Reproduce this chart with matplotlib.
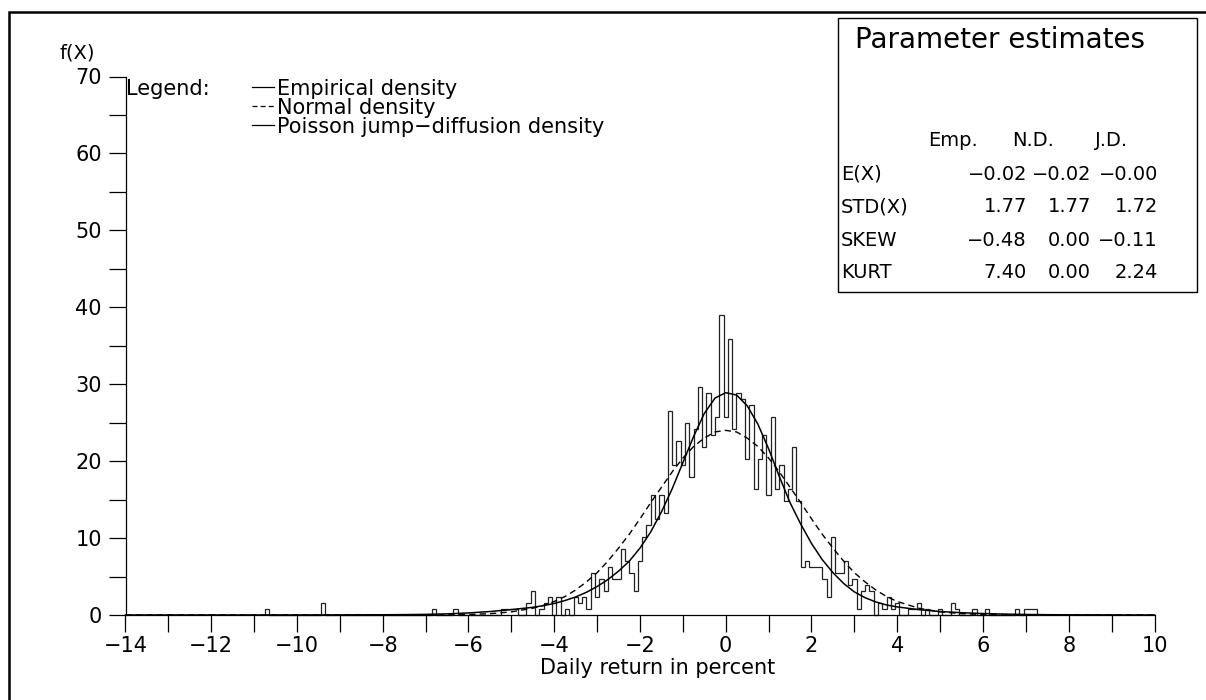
import numpy as np
import matplotlib
matplotlib.use("Agg")
import matplotlib.pyplot as plt
from matplotlib.patches import Rectangle
from matplotlib.lines import Line2D
from matplotlib.ticker import MultipleLocator

W, H = 1206, 700
plt.rcParams["font.family"] = ["DejaVu Sans"]

######## empirical histogram (0.1 wide bins, first bin centred on -10.7)
bin_first = -10.7
bin_width = 0.1
count_height = 0.78  # f(X) height of a single observation
hist_counts = ([1] + [0] * 12 + [2] + [0] * 25 + [1] + [0] * 4 + [1] + [0] * 10 + [
    1, 1, 1, 1, 0, 0, 2, 4, 0, 1,
    2, 3, 0, 3, 0, 1, 0, 3, 2, 3,
    1, 7, 3, 6, 4, 8, 6, 6, 11, 9,
    7, 4, 9, 13, 15, 20, 16, 20, 17, 34,
    25, 29, 25, 32, 23, 31, 38, 28, 37, 30,
    33, 50, 33, 46, 31, 37, 36, 26, 35, 21,
    26, 30, 20, 33, 21, 25, 19, 21, 28, 19,
    8, 9, 8, 8, 8, 6, 3, 13, 7, 7,
    9, 5, 6, 1, 4, 5, 4, 0, 2, 1,
    3, 1, 2, 0, 0, 1, 1, 2, 0, 1,
    0, 0, 1, 0, 0, 2, 1, 0, 0, 0,
    1, 0, 0, 1, 0, 0, 0, 0, 0, 0,
    1, 0, 1, 1, 1])

######## fitted densities
curve_x = [-14, -10, -9, -8, -7.5, -7, -6.5, -6, -5.5, -5, -4.5, -4.25, -4, -3.75,
           -3.5, -3.25, -3, -2.75, -2.5, -2.25, -2, -1.75, -1.5, -1.25, -1, -0.75,
           -0.5, -0.25, 0, 0.25, 0.5, 0.75, 1, 1.25, 1.5, 1.75, 2, 2.25, 2.5, 2.75,
           3, 3.25, 3.5, 3.75, 4, 4.5, 5, 5.5, 6, 6.5, 7, 7.5, 8, 9, 10]
normal_y = [0, 0, 0, 0, 0, 0.005, 0.02, 0.07, 0.17, 0.41, 0.88, 1.25, 1.76, 2.4,
            3.25, 4.3, 5.5, 7.0, 8.7, 10.5, 12.5, 14.6, 16.6, 18.6, 20.4, 21.9,
            23.0, 23.8, 24.0, 23.8, 23.0, 21.9, 20.4, 18.6, 16.6, 14.6, 12.5, 10.5, 8.7, 7.0,
            5.5, 4.3, 3.25, 2.4, 1.76, 0.88, 0.41, 0.17, 0.07, 0.02, 0.005, 0, 0, 0, 0]
jump_y = [0, 0.005, 0.01, 0.03, 0.05, 0.08, 0.15, 0.27, 0.45, 0.7, 1.0, 1.22, 1.5, 1.88,
          2.35, 2.95, 3.7, 4.6, 5.7, 7.0, 8.7, 10.8, 13.4, 16.4, 19.8, 23.2,
          26.2, 28.2, 28.9, 28.6, 27.2, 24.8, 21.6, 18.0, 14.6, 11.8, 9.3, 7.2, 5.5, 4.1,
          3.0, 2.25, 1.7, 1.3, 1.05, 0.7, 0.45, 0.3, 0.19, 0.12, 0.07, 0.04, 0.02, 0.01, 0]

######## parameter table
row_names = ["E(X)", "STD(X)", "SKEW", "KURT"]
col_names = ["Emp.", "N.D.", "J.D."]
emp_vals = ["\u22120.02", "1.77", "\u22120.48", "7.40"]
nd_vals = ["\u22120.02", "1.77", "0.00", "0.00"]
jd_vals = ["\u22120.00", "1.72", "\u22120.11", "2.24"]


def px(x, y):
    return x / W, 1 - y / H


fig = plt.figure(figsize=(W / 100, H / 100), dpi=100)
ax = fig.add_axes([125.5 / W, 1 - 615 / H, (1154.5 - 125.5) / W, (615 - 76.5) / H])

counts = np.array(hist_counts, dtype=float)
edges = np.round(bin_first - bin_width / 2 + bin_width * np.arange(len(counts) + 1), 3)
ax.stairs(counts * count_height, edges, baseline=0, color="#222222", lw=0.9, clip_on=False)
ax.plot(curve_x, normal_y, color="black", lw=1.0, ls=(0, (4.5, 3.0)), clip_on=False)
ax.plot(curve_x, jump_y, color="black", lw=1.1, clip_on=False)

ax.set_xlim(-14, 10)
ax.set_ylim(0, 70)
ax.xaxis.set_major_locator(MultipleLocator(2))
ax.xaxis.set_minor_locator(MultipleLocator(1))
ax.yaxis.set_major_locator(MultipleLocator(10))
ax.yaxis.set_minor_locator(MultipleLocator(5))
for s in ["top", "right"]:
    ax.spines[s].set_visible(False)
for s in ["left", "bottom"]:
    ax.spines[s].set_linewidth(0.9)
ax.tick_params(which="both", direction="out", length=12, width=0.9, labelsize=15, pad=3)
ax.tick_params(axis="y", pad=5)
ax.patch.set_visible(False)

# axis titles
fig.text(*px(77, 53), "f(X)", fontsize=14, ha="center", va="center")
fig.text(*px(658, 668), "Daily return in percent", fontsize=15, ha="center", va="center")

# legend
fig.text(*px(126, 89), "Legend:", fontsize=15, ha="left", va="center")
leg_rows = [(89, "-", "Empirical density"), (108, (0, (4.0, 2.5)), "Normal density"),
            (127, "-", "Poisson jump\u2212diffusion density")]
for y, ls, label in leg_rows:
    x0, y0 = px(252, y - 2)
    x1, _ = px(274, y - 2)
    fig.add_artist(Line2D([x0, x1], [y0, y0], transform=fig.transFigure,
                          color="black", lw=0.9, ls=ls))
    fig.text(*px(277, y), label, fontsize=15, ha="left", va="center")

# parameter box
bx0, by0 = px(838, 292)
bx1, by1 = px(1197, 18)
fig.add_artist(Rectangle((bx0, by0), bx1 - bx0, by1 - by0, transform=fig.transFigure,
                         fill=False, lw=1.0, color="black"))
fig.text(*px(1000, 40), "Parameter estimates", fontsize=20, ha="center", va="center")
for x, name in zip([928, 1012, 1095], col_names):
    fig.text(*px(x, 141), name, fontsize=14, ha="left", va="center")
row_y = [174, 207, 240, 272]
for y, name, a, b, c in zip(row_y, row_names, emp_vals, nd_vals, jd_vals):
    fig.text(*px(841, y), name, fontsize=14, ha="left", va="center")
    fig.text(*px(1027, y), a, fontsize=14, ha="right", va="center")
    fig.text(*px(1091, y), b, fontsize=14, ha="right", va="center")
    fig.text(*px(1158, y), c, fontsize=14, ha="right", va="center")

# outer frame
fx0, fy0 = px(9, 760)
fx1, fy1 = px(1260, 12)
fig.add_artist(Rectangle((fx0, fy0), fx1 - fx0, fy1 - fy0, transform=fig.transFigure,
                         fill=False, lw=1.8, color="black"))

fig.savefig("out.png", dpi=100)
